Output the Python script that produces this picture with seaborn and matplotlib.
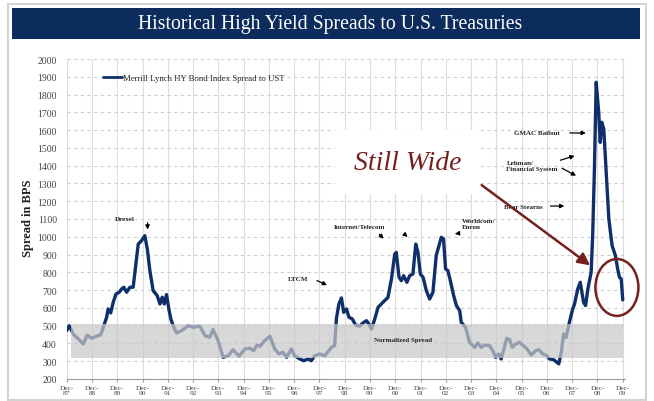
import numpy as np
import pandas as pd
import matplotlib
matplotlib.use("Agg")
import matplotlib.pyplot as plt
import seaborn as sns
from matplotlib.patches import Ellipse, Rectangle

# ---- data (x = years since Dec-87) ----
years = [0.00, 0.10, 0.26, 0.46, 0.66, 0.81, 0.99, 1.19, 1.34, 1.45, 1.58, 1.64, 1.74, 1.84, 1.95,
         2.08, 2.17, 2.26, 2.37, 2.50, 2.63, 2.74, 2.83, 2.96, 3.09, 3.19, 3.29, 3.42, 3.58, 3.69,
         3.78, 3.86, 3.95, 4.04, 4.12, 4.21, 4.35, 4.55, 4.81, 5.00, 5.27, 5.47, 5.66, 5.79, 5.99,
         6.19, 6.39, 6.58, 6.82, 7.05, 7.25, 7.40, 7.53, 7.64, 7.84, 8.04, 8.23, 8.40, 8.56, 8.70,
         8.89, 9.02, 9.22, 9.38, 9.55, 9.68, 9.81, 10.01, 10.21, 10.47, 10.60, 10.67, 10.77, 10.87,
         10.96, 11.07, 11.17, 11.30, 11.43, 11.59, 11.73, 11.86, 11.96, 12.06, 12.19, 12.32, 12.51,
         12.71, 12.85, 12.98, 13.04, 13.15, 13.24, 13.33, 13.46, 13.57, 13.70, 13.81, 13.90, 13.99,
         14.10, 14.23, 14.36, 14.49, 14.62, 14.73, 14.82, 14.91, 14.99, 15.08, 15.18, 15.31, 15.42,
         15.55, 15.61, 15.78, 15.94, 16.14, 16.27, 16.40, 16.53, 16.73, 16.86, 16.97, 17.10, 17.19,
         17.28, 17.41, 17.52, 17.63, 17.76, 17.92, 18.05, 18.21, 18.38, 18.55, 18.68, 18.84, 19.00,
         19.10, 19.26, 19.37, 19.47, 19.57, 19.66, 19.76, 19.89, 20.02, 20.09, 20.22, 20.32, 20.45,
         20.53, 20.62, 20.75, 20.81, 20.88, 20.95, 21.05, 21.11, 21.17, 21.25, 21.34, 21.45, 21.58,
         21.71, 21.80, 21.87, 21.94, 22.00]
spread = [472, 500, 453, 425, 397, 447, 429, 442, 448, 491, 547, 594, 572, 631, 678,
          688, 706, 716, 688, 716, 716, 847, 959, 978, 1006, 931, 810, 697, 669, 622,
          660, 622, 675, 594, 538, 500, 459, 472, 500, 491, 497, 444, 435, 478, 416,
          322, 331, 365, 328, 369, 373, 359, 391, 384, 416, 440, 369, 341, 350, 322,
          369, 331, 313, 303, 313, 303, 331, 341, 331, 378, 388, 538, 622, 656,
          575, 594, 547, 538, 504, 497, 516, 528, 509, 481, 538, 603, 631,
          659, 763, 903, 912, 772, 753, 781, 744, 781, 791, 959, 912, 791,
          772, 697, 650, 688, 894, 950, 997, 988, 819, 810, 753, 669, 613,
          584, 519, 491, 406, 378, 403, 378, 391, 388, 359, 322, 341, 313,
          359, 429, 422, 378, 397, 406, 391, 369, 335, 359, 365, 341, 331,
          313, 309, 297, 285, 350, 453, 434, 519, 594, 620, 706, 744, 631,
          613, 706, 800, 1006, 1381, 1869, 1700, 1531, 1644, 1606, 1381, 1100, 950,
          894, 819, 772, 763, 645]
tick_years = list(range(87, 100)) + list(range(0, 10))
tick_labels = ["Dec-\n%02d" % y for y in tick_years]
series_name = "Merrill Lynch HY Bond Index Spread to UST"
band_low, band_high = 320, 510

sns.set_style("white")
plt.rcParams['font.family'] = ['Liberation Serif', 'DejaVu Serif']

W, H = 654, 402
fig = plt.figure(figsize=(W / 100, H / 100), dpi=100)
fig.patch.set_facecolor('white')

def fx(px):
    return px / W

def fy(py):
    return 1 - py / H

# outer frame and title banner
fig.patches.append(Rectangle((fx(8), fy(401)), fx(646) - fx(8), fy(5) - fy(401),
                             transform=fig.transFigure, fill=False, edgecolor='#d4d4d4', lw=1.5))
fig.patches.append(Rectangle((fx(12), fy(40)), fx(640) - fx(12), fy(9) - fy(40),
                             transform=fig.transFigure, facecolor='#0d2c5e', edgecolor='none'))
fig.text(fx(330), fy(25), "Historical High Yield Spreads to U.S. Treasuries", color='white',
         ha='center', va='center', fontsize=14.2)

ax = fig.add_axes([fx(66.7), fy(380), fx(624.5) - fx(66.7), fy(60) - fy(380)])
df = pd.DataFrame({'t': years, 'spread': spread})
sns.lineplot(data=df, x='t', y='spread', ax=ax, color='#0f2f6c', lw=2.4, label=series_name,
             zorder=3, sort=False)
ax.fill_between([0.17, 22.0], band_low, band_high, color='#c9c9c9', alpha=0.72, lw=0, zorder=4)

ax.set_xlim(0, 22.07)
ax.set_ylim(200, 2000)
ax.set_yticks(range(200, 2001, 100))
ax.set_xticks(range(23))
ax.set_xticklabels(tick_labels, fontsize=5.3, color='#444444', linespacing=1.0)
ax.tick_params(axis='y', labelsize=7, colors='#444444', length=0, pad=7)
ax.tick_params(axis='x', length=2.5, color='#9a9a9a', pad=1.5, direction='out', bottom=True)
ax.yaxis.grid(True, ls=(0, (3, 3)), color='#cfcfcf', lw=0.8)
ax.xaxis.grid(True, color='#dddddd', lw=0.8)
for s in ['top', 'right', 'left']:
    ax.spines[s].set_visible(False)
ax.spines['bottom'].set_color('#9a9a9a')
ax.set_xlabel('')
ax.set_ylabel('')
fig.text(fx(28), fy(218), "Spread in BPS", rotation=90, ha='center', va='center',
         fontsize=9, fontweight='bold', color='#222222')

leg = ax.legend(loc='upper left', bbox_to_anchor=(0.058, 0.963), frameon=False, fontsize=6.3,
                handlelength=2.2, handletextpad=0.1, borderaxespad=0)
for line in leg.get_lines():
    line.set_linewidth(2)

# event annotations
small = dict(fontsize=5, fontweight='bold', color='#222222')
arrow = dict(arrowstyle='-|>', color='black', lw=0.9, mutation_scale=6)
ax.text(2.3, 1100, "Drexel", ha='center', va='center', **small)
ax.annotate("", xy=(3.2, 1025), xytext=(3.2, 1095), arrowprops=arrow)
ax.text(9.15, 765, "LTCM", ha='center', va='center', **small)
ax.annotate("", xy=(10.4, 722), xytext=(9.8, 760), arrowprops=arrow)
ax.text(11.6, 1055, "Internet/Telecom", ha='center', va='center', **small)
ax.annotate("", xy=(12.62, 978), xytext=(12.29, 1025), arrowprops=arrow)
ax.annotate("", xy=(13.57, 988), xytext=(13.28, 1025), arrowprops=arrow)
ax.text(15.62, 1075, "Worldcom/\nEnron", ha='left', va='center', linespacing=1.3, **small)
ax.annotate("", xy=(15.25, 1015), xytext=(15.55, 1020), arrowprops=arrow)
ax.text(18.6, 1584, "GMAC Bailout", ha='center', va='center', **small)
ax.annotate("", xy=(20.65, 1584), xytext=(19.8, 1584), arrowprops=arrow)
ax.text(17.4, 1400, "Lehman/\nFinancial System", ha='left', va='center', linespacing=1.3, **small)
ax.annotate("", xy=(20.2, 1460), xytext=(19.43, 1426), arrowprops=arrow)
ax.annotate("", xy=(20.25, 1336), xytext=(19.5, 1393), arrowprops=arrow)
ax.text(17.3, 1173, "Bear Stearns", ha='left', va='center', **small)
ax.annotate("", xy=(19.8, 1173), xytext=(19.03, 1173), arrowprops=arrow)
ax.text(13.3, 420, "Normalized Spread", ha='center', va='center', zorder=6, **small)

# "Still Wide" callout
red = '#76201f'
ax.text(13.5, 1420, "Still Wide", ha='center', va='center', fontsize=20, style='italic',
        color=red, zorder=7,
        bbox=dict(boxstyle='square,pad=0.7', facecolor='white', edgecolor='none'))
ax.annotate("", xy=(20.8, 830), xytext=(16.33, 1300),
            arrowprops=dict(arrowstyle='-|>', color=red, lw=1.8, mutation_scale=18), zorder=8)
ax.add_patch(Ellipse((21.77, 715), width=1.7, height=320, fill=False, edgecolor=red, lw=1.8,
                     zorder=8, clip_on=False))

fig.savefig("out.png", dpi=100, facecolor='white')
